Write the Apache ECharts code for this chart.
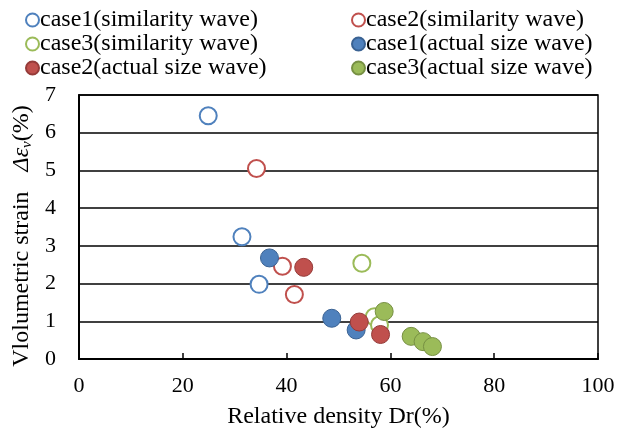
<!DOCTYPE html>
<html>
<head>
<meta charset="utf-8">
<script src="https://cdn.jsdelivr.net/npm/echarts@6/dist/echarts.min.js"></script>
<style>
  html, body { margin: 0; padding: 0; background: #fff; }
  #chart { width: 627px; height: 434px; }
</style>
</head>
<body>
<div id="chart"></div>
<script>
// Relative density Dr(%) vs volumetric strain (%), per case and wave type
const case1Similarity = [[24.9, 6.45], [31.4, 3.24], [34.7, 1.98]];
const case2Similarity = [[34.2, 5.05], [39.2, 2.46], [41.5, 1.71]];
const case3Similarity = [[54.5, 2.54], [56.9, 1.12], [57.9, 0.90]];
const case1Actual = [[36.7, 2.68], [48.7, 1.08], [53.4, 0.77]];
const case2Actual = [[43.3, 2.43], [54.0, 0.98], [58.1, 0.65]];
const case3Actual = [[58.8, 1.26], [64.0, 0.60], [66.3, 0.46], [68.1, 0.33]];

const xTicks = [0, 20, 40, 60, 80, 100];
const yTicks = [0, 1, 2, 3, 4, 5, 6, 7];

const seriesNames = [
  'case1(similarity wave)', 'case2(similarity wave)', 'case3(similarity wave)',
  'case1(actual size wave)', 'case2(actual size wave)', 'case3(actual size wave)'
];

const FONT = '"Liberation Serif", "Times New Roman", serif';
const BLUE = '#4F81BD', RED = '#C0504D', GREEN = '#9BBB59';

function openSeries(name, data, color) {
  return {
    name, type: 'scatter', data, symbol: 'circle', symbolSize: 17,
    itemStyle: { color: '#fff', borderColor: color, borderWidth: 2, opacity: 1 }
  };
}
function filledSeries(name, data, color, border) {
  return {
    name, type: 'scatter', data, symbol: 'circle', symbolSize: 18,
    itemStyle: { color, borderColor: border, borderWidth: 1, opacity: 1 }
  };
}

const legendCommon = {
  orient: 'vertical',
  itemWidth: 13, itemHeight: 13, itemGap: 0,
  icon: 'circle',
  textStyle: { fontFamily: FONT, fontSize: 24, lineHeight: 24, color: '#000', padding: [0, 0, 0, -4] },
  selectedMode: false
};

const chart = echarts.init(document.getElementById('chart'), null, { renderer: 'canvas' });
chart.setOption({
  animation: false,
  backgroundColor: '#fff',
  legend: [
    Object.assign({}, legendCommon, { left: 20, top: 3, data: [seriesNames[0], seriesNames[2], seriesNames[4]] }),
    Object.assign({}, legendCommon, { left: 346, top: 3, data: [seriesNames[1], seriesNames[3], seriesNames[5]] })
  ],
  grid: {
    left: 79, right: 29, top: 95, bottom: 71,
    show: true, borderColor: '#000', borderWidth: 1.5, backgroundColor: 'transparent'
  },
  xAxis: {
    type: 'value', min: xTicks[0], max: xTicks[xTicks.length - 1], interval: 20,
    name: 'Relative density Dr(%)', nameLocation: 'middle', nameGap: 46,
    nameTextStyle: { fontFamily: FONT, fontSize: 24, color: '#000' },
    axisLine: { show: true, lineStyle: { color: '#000', width: 2 } },
    axisTick: { show: true, inside: true, length: 6, lineStyle: { color: '#000', width: 1.5 } },
    axisLabel: { fontFamily: FONT, fontSize: 22, color: '#000', margin: 16 },
    splitLine: { show: false }
  },
  yAxis: {
    type: 'value', min: yTicks[0], max: yTicks[yTicks.length - 1], interval: 1,
    name: '{n|Vlolumetric strain}{e|Δε}{s|v}{p|(%)}',
    nameLocation: 'middle', nameGap: 35, nameRotate: 90,
    nameTextStyle: {
      fontFamily: FONT, fontSize: 24, color: '#000',
      rich: {
        n: { fontFamily: FONT, fontSize: 24, color: '#000' },
        e: { fontFamily: FONT, fontSize: 24, color: '#000', fontStyle: 'italic', padding: [0, 0, 0, 20] },
        s: { fontFamily: FONT, fontSize: 15, color: '#000', fontStyle: 'italic', padding: [9, 0, 0, 0] },
        p: { fontFamily: FONT, fontSize: 24, color: '#000', padding: [0, 18, 0, 0] }
      }
    },
    axisLine: { show: true, lineStyle: { color: '#000', width: 2 } },
    axisTick: { show: false },
    axisLabel: { fontFamily: FONT, fontSize: 22, color: '#000', margin: 23 },
    splitLine: { show: true, lineStyle: { color: '#000', width: 1.5 } }
  },
  series: [
    openSeries(seriesNames[0], case1Similarity, BLUE),
    openSeries(seriesNames[1], case2Similarity, RED),
    openSeries(seriesNames[2], case3Similarity, GREEN),
    filledSeries(seriesNames[3], case1Actual, BLUE, '#3A6293'),
    filledSeries(seriesNames[4], case2Actual, RED, '#953B39'),
    filledSeries(seriesNames[5], case3Actual, GREEN, '#779043')
  ]
});
</script>
</body>
</html>
